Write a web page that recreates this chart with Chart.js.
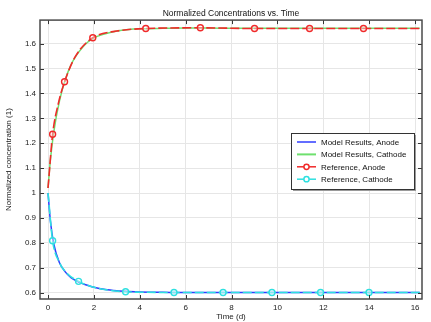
<!DOCTYPE html>
<html>
<head>
<meta charset="utf-8">
<script src="https://cdn.jsdelivr.net/npm/chart.js@4.4.1/dist/chart.umd.min.js"></script>
<style>
  html, body { margin: 0; padding: 0; background: #fff; }
  #wrap { width: 431px; height: 322px; }
</style>
</head>
<body>
<div id="wrap"><canvas id="chart" width="431" height="322"></canvas></div>
<script>
// Model results (time in days): upper curve drawn green, lower curve drawn blue
const modelTime  = [0, 0.1, 0.25, 0.5, 0.75, 1, 1.25, 1.5, 1.75, 2, 2.5, 3, 3.5, 4, 5, 6, 7, 8, 10, 12, 14, 16.2];
const modelUpper = [1.02, 1.13, 1.245, 1.37, 1.455, 1.515, 1.555, 1.585, 1.608, 1.624, 1.64, 1.651, 1.657, 1.66, 1.662, 1.663, 1.663, 1.662, 1.662, 1.662, 1.662, 1.662];
const modelLower = [1.0, 0.89, 0.795, 0.72, 0.683, 0.66, 0.646, 0.636, 0.628, 0.621, 0.612, 0.607, 0.604, 0.602, 0.601, 0.6, 0.6, 0.6, 0.6, 0.6, 0.6, 0.6];

// Reference data (markers only where flagged)
const refAnodeTime   = [0, 0.2, 0.45, 0.72, 1.2, 1.95, 3, 4.26, 6.64, 9.0, 11.4, 13.75, 16.2];
const refAnode       = [1.02, 1.236, 1.36, 1.447, 1.55, 1.624, 1.651, 1.661, 1.664, 1.661, 1.661, 1.661, 1.661];
const refAnodeMarked = [false, true, false, true, false, true, false, true, true, true, true, true, false];

const refCathodeTime   = [0, 0.2, 0.5, 0.8, 1.33, 2, 2.6, 3.38, 4.3, 5.49, 7.63, 9.76, 11.88, 13.99, 16.2];
const refCathode       = [1.0, 0.808, 0.72, 0.68, 0.645, 0.621, 0.61, 0.603, 0.601, 0.6, 0.6, 0.6, 0.6, 0.6, 0.6];
const refCathodeMarked = [false, true, false, false, true, false, false, true, false, true, true, true, true, true, false];

const seriesLabels = ['Model Results, Anode', 'Model Results, Cathode', 'Reference, Anode', 'Reference, Cathode'];

const FONT = '"Liberation Sans", Arial, sans-serif';
const COLORS = {
    blue: '#2f3cff',
    green: '#6ee06e',
    red: '#f02a2a',
    cyan: '#2ee0e0'
};

function toPoints(xs, ys) {
    return xs.map((x, i) => ({ x: x, y: ys[i] }));
}

// Frame, inward tick marks and boxed legend
const decorPlugin = {
    id: 'decor',
    afterDraw(chart) {
        const ctx = chart.ctx;
        const a = chart.chartArea;
        const xs = chart.scales.x;
        const ys = chart.scales.y;
        ctx.save();

        // inward ticks
        ctx.strokeStyle = '#333';
        ctx.lineWidth = 1;
        ctx.beginPath();
        xs.ticks.forEach(t => {
            const px = Math.round(xs.getPixelForValue(t.value)) + 0.5;
            ctx.moveTo(px, a.bottom); ctx.lineTo(px, a.bottom - 4);
            ctx.moveTo(px, a.top); ctx.lineTo(px, a.top + 4);
        });
        ys.ticks.forEach(t => {
            const py = Math.round(ys.getPixelForValue(t.value)) + 0.5;
            ctx.moveTo(a.left, py); ctx.lineTo(a.left + 4, py);
            ctx.moveTo(a.right, py); ctx.lineTo(a.right - 4, py);
        });
        ctx.stroke();

        // frame
        ctx.strokeStyle = '#4a4a4a';
        ctx.lineWidth = 1.5;
        ctx.strokeRect(a.left, a.top, a.right - a.left, a.bottom - a.top);

        // legend
        const lx = 291, ly = 133, lw = 123, lh = 56;
        ctx.fillStyle = '#9a9a9a';
        ctx.fillRect(lx + 2, ly + 2, lw, lh);
        ctx.fillStyle = '#fff';
        ctx.fillRect(lx, ly, lw, lh);
        ctx.strokeStyle = '#333';
        ctx.lineWidth = 1;
        ctx.strokeRect(lx + 0.5, ly + 0.5, lw, lh);

        const styles = [
            { color: COLORS.blue, marker: false },
            { color: COLORS.green, marker: false, width: 2 },
            { color: COLORS.red, marker: true },
            { color: COLORS.cyan, marker: true }
        ];
        ctx.font = '8px ' + FONT;
        ctx.textBaseline = 'middle';
        seriesLabels.forEach((label, i) => {
            const y = ly + 9 + i * 12.4;
            const s = styles[i];
            ctx.strokeStyle = s.color;
            ctx.lineWidth = s.width || 1.5;
            ctx.beginPath();
            ctx.moveTo(lx + 6, y);
            ctx.lineTo(lx + 25, y);
            ctx.stroke();
            if (s.marker) {
                ctx.fillStyle = '#fff';
                ctx.beginPath();
                ctx.arc(lx + 15.5, y, 2.6, 0, Math.PI * 2);
                ctx.fill();
                ctx.stroke();
            }
            ctx.fillStyle = '#111';
            ctx.fillText(label, lx + 30, y + 0.5);
        });
        ctx.restore();
    }
};

new Chart(document.getElementById('chart'), {
    type: 'line',
    data: {
        datasets: [
            {
                label: seriesLabels[2],
                data: toPoints(refAnodeTime, refAnode),
                borderColor: COLORS.red,
                borderWidth: 1.6,
                borderDash: [9, 3],
                pointRadius: ctx => refAnodeMarked[ctx.dataIndex] ? 3 : 0,
                pointBorderColor: COLORS.red,
                pointBackgroundColor: 'rgba(255,255,255,0.4)',
                pointBorderWidth: 1.4,
                cubicInterpolationMode: 'monotone',
                order: 0
            },
            {
                label: seriesLabels[3],
                data: toPoints(refCathodeTime, refCathode),
                borderColor: COLORS.cyan,
                borderWidth: 1.6,
                borderDash: [9, 3],
                pointRadius: ctx => refCathodeMarked[ctx.dataIndex] ? 3 : 0,
                pointBorderColor: COLORS.cyan,
                pointBackgroundColor: 'rgba(255,255,255,0.4)',
                pointBorderWidth: 1.4,
                cubicInterpolationMode: 'monotone',
                order: 1
            },
            {
                label: seriesLabels[0],
                data: toPoints(modelTime, modelLower),
                borderColor: COLORS.blue,
                borderWidth: 1.5,
                pointRadius: 0,
                cubicInterpolationMode: 'monotone',
                order: 3
            },
            {
                label: seriesLabels[1],
                data: toPoints(modelTime, modelUpper),
                borderColor: COLORS.green,
                borderWidth: 1.5,
                pointRadius: 0,
                cubicInterpolationMode: 'monotone',
                order: 2
            }
        ]
    },
    options: {
        responsive: false,
        animation: false,
        events: [],
        layout: { padding: { left: 0, right: 9, top: 0, bottom: 0 } },
        scales: {
            x: {
                type: 'linear',
                min: -0.35,
                max: 16.3,
                afterFit: scale => { scale.height = 23; },
                afterBuildTicks: scale => {
                    scale.ticks = [0, 2, 4, 6, 8, 10, 12, 14, 16].map(v => ({ value: v }));
                },
                grid: { color: '#e6e6e6', lineWidth: 1, drawTicks: false },
                border: { display: false },
                ticks: {
                    padding: 4,
                    color: '#222',
                    maxRotation: 0,
                    font: { family: FONT, size: 8 }
                },
                title: {
                    display: true,
                    text: 'Time (d)',
                    color: '#222',
                    padding: { top: 0, bottom: 0.5 },
                    font: { family: FONT, size: 8 }
                }
            },
            y: {
                min: 0.574,
                max: 1.695,
                afterFit: scale => { scale.width = 40; },
                afterBuildTicks: scale => {
                    scale.ticks = [0.6, 0.7, 0.8, 0.9, 1, 1.1, 1.2, 1.3, 1.4, 1.5, 1.6].map(v => ({ value: v }));
                },
                grid: { color: '#e6e6e6', lineWidth: 1, drawTicks: false },
                border: { display: false },
                ticks: {
                    padding: 4,
                    color: '#222',
                    font: { family: FONT, size: 8 },
                    callback: v => String(Math.round(v * 10) / 10)
                },
                title: {
                    display: true,
                    text: 'Normalized concentration (1)',
                    color: '#222',
                    padding: { top: 3.5, bottom: 0 },
                    font: { family: FONT, size: 8 }
                }
            }
        },
        plugins: {
            legend: { display: false },
            tooltip: { enabled: false },
            title: {
                display: true,
                text: 'Normalized Concentrations vs. Time',
                color: '#111',
                fullSize: false,
                padding: { top: 8.6, bottom: 1.3 },
                font: { family: FONT, size: 8.5, weight: 'normal' }
            }
        }
    },
    plugins: [decorPlugin]
});
</script>
</body>
</html>
